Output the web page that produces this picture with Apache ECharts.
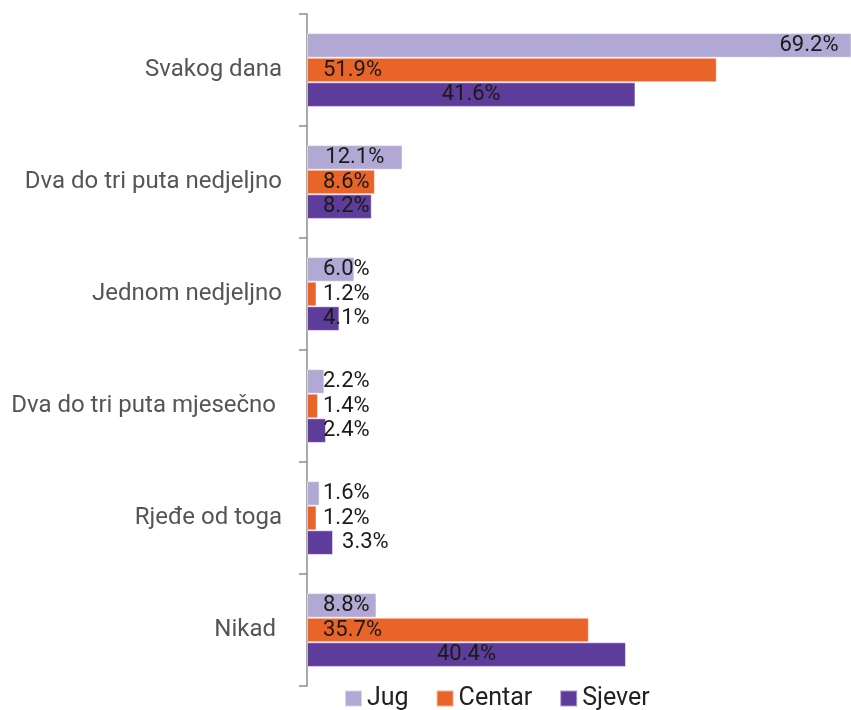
<!DOCTYPE html>
<html>
<head>
<meta charset="utf-8">
<script src="https://cdn.jsdelivr.net/npm/echarts@6/dist/echarts.min.js"></script>
<style>html,body{margin:0;padding:0;background:#fff;}#c{width:851px;height:710px;}</style>
</head>
<body>
<div id="c"></div>
<script>
const categories = ['Svakog dana', 'Dva do tri puta nedjeljno', 'Jednom nedjeljno', 'Dva do tri puta mjesečno ', 'Rjeđe od toga', 'Nikad '];
const seriesNames = ['Jug', 'Centar', 'Sjever'];
const jug = [69.2, 12.1, 6.0, 2.2, 1.6, 8.8];
const centar = [51.9, 8.6, 1.2, 1.4, 1.2, 35.7];
const sjever = [41.6, 8.2, 4.1, 2.4, 3.3, 40.4];

const colors = ['#b1a9d3', '#e86428', '#5e3c99'];
// label placement styles (per bar)
const labelPlacement = [
  ['insideRight', 'inside', 'insideLeft', 'insideLeft', 'insideLeft', 'insideLeft'],
  ['insideLeft', 'insideLeft', 'insideLeft', 'insideLeft', 'insideLeft', 'insideLeft'],
  ['inside', 'insideLeft', 'insideLeft', 'insideLeft', 'right', 'inside']
];
const distances = { insideLeft: 16, insideRight: 13, right: 9, inside: 5 };

function buildData(values, si) {
  return values.map((v, i) => {
    const pos = labelPlacement[si][i];
    return { value: v, label: { position: pos, distance: distances[pos] } };
  });
}

const chart = echarts.init(document.getElementById('c'), null, { renderer: 'canvas' });
const allVals = [jug, centar, sjever];
chart.setOption({
  animation: false,
  backgroundColor: '#ffffff',
  grid: { left: 307, right: 0, top: 14, bottom: 24, containLabel: false },
  legend: {
    data: seriesNames,
    left: 339, top: 681,
    icon: 'rect',
    itemWidth: 17, itemHeight: 16, itemGap: 27,
    textStyle: { fontFamily: 'Roboto', fontSize: 25, color: '#222' }
  },
  xAxis: { type: 'value', min: 0, max: 68.9, show: false },
  yAxis: {
    type: 'category',
    data: categories,
    inverse: true,
    axisLine: { show: true, lineStyle: { color: '#8c8c8c', width: 1.5 } },
    axisTick: { show: true, length: 8, lineStyle: { color: '#8c8c8c', width: 1.5 } },
    axisLabel: { fontFamily: 'Roboto', fontSize: 24, color: '#555', margin: 25 },
    splitLine: { show: false }
  },
  series: seriesNames.map((name, si) => ({
    name: name,
    type: 'bar',
    data: buildData(allVals[si], si),
    barWidth: 24.6,
    barGap: '0%',
    clip: true,
    itemStyle: { color: colors[si], borderColor: 'rgba(255,255,255,0.5)', borderWidth: 1 },
    label: {
      show: true,
      fontFamily: 'Roboto',
      fontSize: 22,
      color: '#1a1a1a',
      formatter: p => p.value.toFixed(1) + '%'
    }
  }))
});
</script>
</body>
</html>
